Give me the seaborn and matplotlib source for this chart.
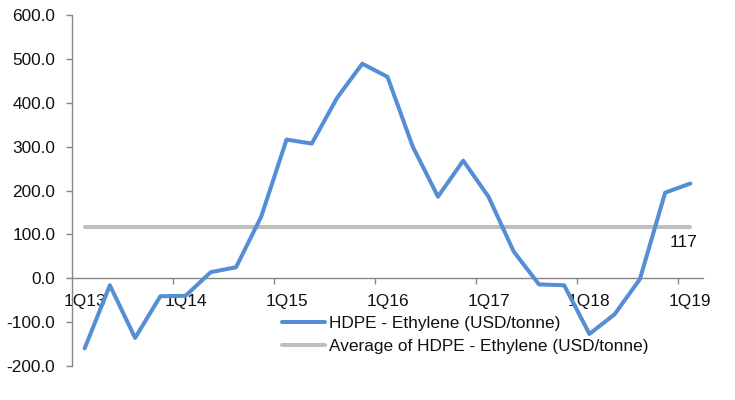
import matplotlib
matplotlib.use("Agg")
import matplotlib.pyplot as plt
import seaborn as sns
import pandas as pd
from matplotlib.ticker import FixedLocator, FixedFormatter
from matplotlib.lines import Line2D

# Quarterly HDPE - Ethylene spread, 1Q13 to 1Q19
quarters = [f"{q}Q{y}" for y in range(13, 20) for q in range(1, 5)][:25]
spread = [-160, -16, -136, -41, -40, 14, 25, 141, 316, 307, 411, 489, 459,
          300, 186, 268, 186, 61, -14, -16, -127, -82, -2, 195, 216]
average_value = 117
average = [average_value] * len(quarters)

y_ticks = [-200, -100, 0, 100, 200, 300, 400, 500, 600]
y_tick_labels = ["-200.0", "-100.0", "0.0", "100.0", "200.0", "300.0", "400.0", "500.0", "600.0"]
x_label_every = 4

series_name = "HDPE - Ethylene (USD/tonne)"
avg_name = "Average of HDPE - Ethylene (USD/tonne)"

df = pd.DataFrame({
    "idx": list(range(len(quarters))) * 2,
    "value": spread + average,
    "series": [series_name] * len(quarters) + [avg_name] * len(quarters),
})

sns.set_style("white")
plt.rcParams["font.family"] = ["Liberation Sans", "DejaVu Sans"]
plt.rcParams["axes.unicode_minus"] = False

fig = plt.figure(figsize=(7.35, 4.0), dpi=100)
ax = fig.add_axes([72 / 735, 1 - 366 / 400, (703 - 72) / 735, (366 - 15) / 400])

blue = "#558ED5"
gray = "#BFBFBF"
axis_gray = "#868686"
text_color = "#111111"
fs = 12.4

sns.lineplot(data=df, x="idx", y="value", hue="series",
             palette={series_name: blue, avg_name: gray},
             hue_order=[series_name, avg_name],
             linewidth=2.9, ax=ax, legend=False)
for ln in ax.get_lines():
    ln.set_solid_joinstyle("round")
    ln.set_solid_capstyle("round")
# draw the spread on top of the average line
ax.get_lines()[0].set_zorder(3)

ax.set_xlim(-0.5, len(quarters) - 0.5)
ax.set_ylim(-200, 600)
ax.set_xlabel("")
ax.set_ylabel("")

# y axis
ax.yaxis.set_major_locator(FixedLocator(y_ticks))
ax.yaxis.set_major_formatter(FixedFormatter(y_tick_labels))
ax.tick_params(axis="y", direction="out", length=4, width=1, color=axis_gray,
               pad=8, labelsize=fs, labelcolor=text_color, left=True)

# x axis sits on zero; labels centred on categories, ticks between categories
ax.spines["bottom"].set_position(("data", 0))
label_pos = list(range(0, len(quarters), x_label_every))
ax.xaxis.set_major_locator(FixedLocator(label_pos))
ax.xaxis.set_major_formatter(FixedFormatter([quarters[i] for i in label_pos]))
ax.xaxis.set_minor_locator(FixedLocator([i - 0.5 for i in label_pos[1:]]))
ax.tick_params(axis="x", which="major", length=0, pad=11, labelsize=fs, labelcolor=text_color)
ax.tick_params(axis="x", which="minor", direction="out", length=4, width=1,
               color=axis_gray, bottom=True)

for s in ["top", "right"]:
    ax.spines[s].set_visible(False)
for s in ["left", "bottom"]:
    ax.spines[s].set_color(axis_gray)
    ax.spines[s].set_linewidth(1.0)

# average value label
ax.annotate(f"{average_value}", xy=(len(quarters) - 1, average_value),
            xytext=(-5, -11.5), textcoords="offset points",
            ha="center", va="center", fontsize=fs, color=text_color)

# legend
handles = [Line2D([], [], color=blue, lw=2.9), Line2D([], [], color=gray, lw=2.9)]
fig.legend(handles, [series_name, avg_name], loc="upper left",
           bbox_to_anchor=(282 / 735, 1 - 316 / 400), frameon=False,
           fontsize=fs, handlelength=2.5, handletextpad=0.23, labelspacing=0.48,
           borderpad=0, borderaxespad=0, labelcolor=text_color)

fig.savefig("out.png", dpi=100)
